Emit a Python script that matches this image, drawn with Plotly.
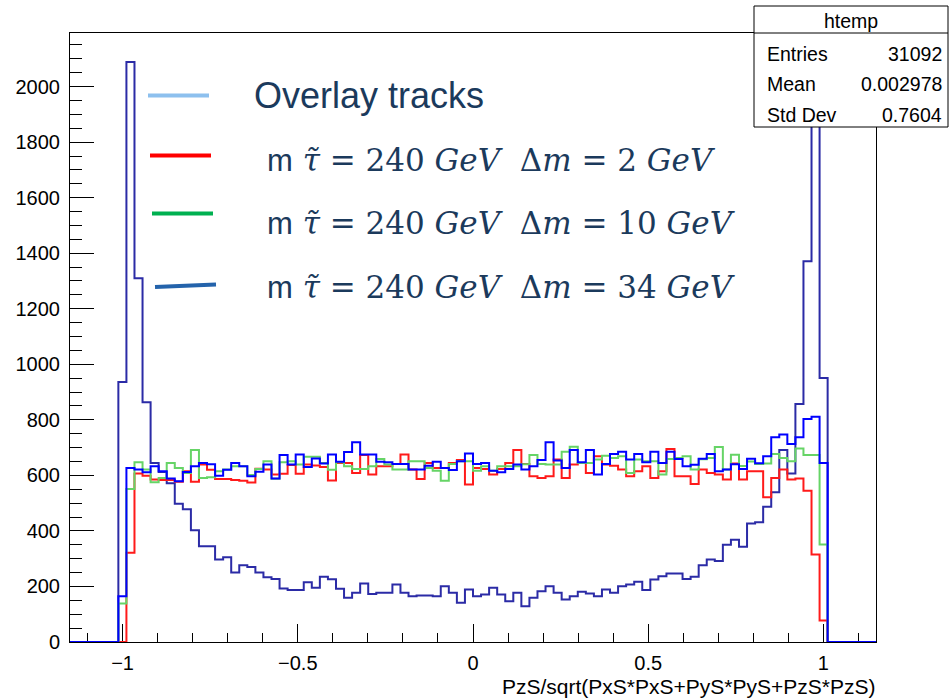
import plotly.graph_objects as go

# Histogram binning: 100 bins over [-1.15, 1.15]; counts below start at bin FIRST_BIN
N_BINS = 100
X_LO, X_HI = -1.15, 1.15
FIRST_BIN = 6

# cos(theta) of tracks, counts per bin
overlay = [936, 2089, 1310, 863, 645, 612, 572, 498, 478, 402, 345, 345, 297, 305, 250, 276,
           270, 250, 233, 227, 193, 187, 187, 215, 195, 235, 226, 192, 159, 177, 211, 173,
           177, 177, 207, 177, 165, 167, 167, 165, 201, 177, 141, 189, 165, 171, 195, 171,
           147, 177, 129, 159, 183, 201, 177, 153, 165, 181, 175, 165, 189, 177, 201, 207,
           217, 187, 225, 237, 247, 247, 227, 235, 276, 297, 292, 350, 368, 343, 427, 431,
           487, 539, 691, 607, 857, 1371, 1980, 951]
dm2 = [0, 321, 607, 599, 585, 583, 583, 577, 615, 577, 639, 620, 587, 587, 583, 581,
       574, 624, 621, 603, 606, 637, 606, 639, 636, 630, 582, 645, 645, 609, 673, 603,
       633, 633, 641, 675, 621, 587, 645, 627, 627, 645, 655, 567, 627, 623, 603, 623,
       645, 691, 641, 597, 591, 597, 657, 591, 639, 645, 609, 669, 639, 635, 621, 597,
       615, 633, 591, 615, 695, 597, 597, 569, 621, 609, 603, 585, 643, 585, 615, 615,
       521, 591, 621, 585, 589, 545, 315, 77]
dm10 = [139, 551, 647, 621, 575, 591, 645, 627, 609, 691, 591, 593, 615, 621, 633, 633,
        601, 623, 651, 588, 647, 651, 639, 667, 667, 645, 620, 647, 633, 623, 623, 633,
        659, 639, 621, 621, 651, 651, 627, 617, 581, 641, 651, 651, 617, 633, 617, 633,
        633, 633, 640, 673, 641, 639, 639, 685, 703, 645, 645, 657, 671, 663, 669, 609,
        657, 651, 651, 603, 659, 663, 669, 621, 658, 663, 702, 621, 674, 634, 650, 641,
        643, 677, 663, 651, 697, 673, 673, 351]
dm34 = [165, 627, 621, 611, 633, 615, 589, 579, 612, 633, 645, 640, 599, 620, 645, 633,
        597, 613, 639, 589, 673, 639, 675, 630, 661, 643, 675, 649, 684, 719, 675, 675,
        649, 647, 641, 641, 621, 621, 635, 649, 627, 619, 651, 679, 641, 645, 617, 611,
        623, 639, 621, 633, 655, 719, 654, 627, 691, 647, 691, 603, 641, 677, 685, 657,
        677, 647, 685, 645, 685, 659, 633, 638, 660, 677, 615, 621, 640, 623, 660, 644,
        669, 737, 747, 713, 737, 803, 811, 645]

# Stats box contents
stats_title = "htemp"
stats_labels = ["Entries", "Mean", "Std Dev"]
stats_values = ["31092", "0.002978", "0.7604"]

# Legend entries
legend_colors = ["#8dc0ee", "#ff0000", "#00b050", "#2463ab"]
legend_dm = ["2", "10", "34"]

X_TITLE = "PzS/sqrt(PxS*PxS+PyS*PyS+PzS*PzS)"

W, H = 950, 698
L, R, T, B = 70, 876, 33, 642
Y_MAX = 2193


def px(x):
    return (x - L) / (R - L)


def py(y):
    return (B - y) / (B - T)


width = (X_HI - X_LO) / N_BINS
edges = [X_LO + i * width for i in range(N_BINS + 1)]


def full_counts(vals):
    c = [0] * FIRST_BIN + list(vals)
    c += [0] * (N_BINS - len(c))
    return c + [c[-1]]


fig = go.Figure()
series = [(overlay, "#2b2ba6"), (dm2, "#ff1a1a"), (dm10, "#66d466"), (dm34, "#0000ff")]
for vals, col in series:
    fig.add_trace(go.Scatter(
        x=edges, y=full_counts(vals), mode="lines", line=dict(shape="hv", color=col, width=2),
        cliponaxis=False, hoverinfo="skip", showlegend=False))

tick_font = dict(family="Liberation Sans, Arial, sans-serif", size=20, color="black")
fig.update_xaxes(
    range=[X_LO, X_HI], tickmode="linear", tick0=-1, dtick=0.5, ticks="inside", ticklen=18,
    tickcolor="black", tickwidth=1, showline=True, linecolor="black", linewidth=1, mirror=True,
    showgrid=False, zeroline=False, tickfont=tick_font, ticklabelstandoff=3, layer="below traces",
    minor=dict(dtick=0.1, tick0=-1, ticks="inside", ticklen=9, tickcolor="black", showgrid=False))
fig.update_yaxes(
    range=[0, Y_MAX], tickmode="linear", tick0=0, dtick=200, ticks="inside", ticklen=24,
    tickcolor="black", tickwidth=1, showline=True, linecolor="black", linewidth=1, mirror=True,
    showgrid=False, zeroline=False, tickfont=tick_font, ticklabelstandoff=5, layer="below traces",
    minor=dict(dtick=50, tick0=0, ticks="inside", ticklen=12, tickcolor="black", showgrid=False))

shapes = []
annotations = []

# x-axis title, right aligned under the frame
annotations.append(dict(text=X_TITLE, xref="paper", yref="paper", x=px(877), y=py(686.5),
                        xanchor="right", yanchor="middle", showarrow=False,
                        font=dict(family="Liberation Sans, Arial", size=21, color="black")))

# statistics box
bx0, bx1, by0, by1, bsep = 754, 948, 6, 127, 33
shapes.append(dict(type="rect", xref="paper", yref="paper", x0=px(bx0), x1=px(bx1),
                   y0=py(by1), y1=py(by0), line=dict(color="black", width=1), fillcolor="white",
                   layer="above"))
shapes.append(dict(type="line", xref="paper", yref="paper", x0=px(bx0), x1=px(bx1),
                   y0=py(bsep), y1=py(bsep), line=dict(color="black", width=1), layer="above"))
stat_font = dict(family="Liberation Sans, Arial", size=19.5, color="black")
annotations.append(dict(text=stats_title, xref="paper", yref="paper", x=px((bx0 + bx1) / 2),
                        y=py(21), xanchor="center", yanchor="middle", showarrow=False,
                        font=stat_font))
for i, (lab, val) in enumerate(zip(stats_labels, stats_values)):
    yy = 54 + 30.5 * i
    annotations.append(dict(text=lab, xref="paper", yref="paper", x=px(765), y=py(yy),
                            xanchor="left", yanchor="middle", showarrow=False, font=stat_font))
    annotations.append(dict(text=val, xref="paper", yref="paper", x=px(944), y=py(yy),
                            xanchor="right", yanchor="middle", showarrow=False, font=stat_font))

# legend: coloured bars and labels
bars = [((148, 95.5), (209, 95.5)), ((150, 155.5), (211, 155.5)),
        ((152, 213.5), (213, 213.5)), ((155, 287), (216, 284.5))]
for (p0, p1), col in zip(bars, legend_colors):
    shapes.append(dict(type="line", xref="paper", yref="paper", x0=px(p0[0]), y0=py(p0[1]),
                       x1=px(p1[0]), y1=py(p1[1]), line=dict(color=col, width=4)))

text_col = "#1b3a5c"
annotations.append(dict(text="Overlay tracks", xref="paper", yref="paper", x=px(252),
                        y=py(95), xanchor="left", yanchor="middle", showarrow=False,
                        font=dict(family="Liberation Sans, Arial", size=36, color=text_col)))
math_rows_y = [160, 223, 287]
for dm, yy in zip(legend_dm, math_rows_y):
    txt = ("<span style='font-family:Liberation Sans'>m</span> "
           "<i>τ̃</i> = 240 <i>GeV</i>  Δ<i>m</i> = " + dm + " <i>GeV</i>")
    annotations.append(dict(text=txt, xref="paper", yref="paper", x=px(265), y=py(yy),
                            xanchor="left", yanchor="middle", showarrow=False,
                            font=dict(family="DejaVu Serif", size=31, color=text_col)))

fig.update_layout(
    width=W, height=H, margin=dict(l=L, r=W - R, t=T, b=H - B),
    paper_bgcolor="white", plot_bgcolor="white", shapes=shapes, annotations=annotations)

fig.write_html("out.html")
